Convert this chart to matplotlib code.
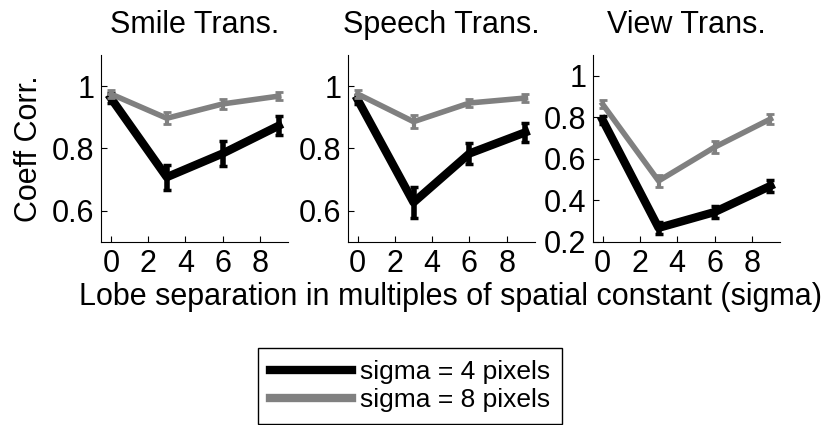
import matplotlib.pyplot as plt

plt.rcParams['font.family'] = ['Liberation Sans', 'DejaVu Sans']

# lobe separation (multiples of sigma)
sep = [0, 3, 6, 9]

titles = ['Smile Trans.', 'Speech Trans.', 'View Trans.']

# mean correlation coefficient, sigma = 4 px
corr_s4 = [
    [0.962, 0.708, 0.784, 0.873],
    [0.957, 0.627, 0.784, 0.852],
    [0.787, 0.268, 0.344, 0.470],
]
err_s4 = [
    [0.015, 0.04, 0.04, 0.03],
    [0.015, 0.05, 0.035, 0.03],
    [0.02, 0.03, 0.03, 0.03],
]

# mean correlation coefficient, sigma = 8 px
corr_s8 = [
    [0.975, 0.897, 0.943, 0.968],
    [0.975, 0.886, 0.946, 0.962],
    [0.863, 0.494, 0.656, 0.792],
]
err_s8 = [
    [0.012, 0.02, 0.015, 0.012],
    [0.012, 0.02, 0.012, 0.012],
    [0.02, 0.03, 0.03, 0.025],
]

ylims = [(0.5, 1.1), (0.5, 1.1), (0.2, 1.1)]
yticks = [[0.6, 0.8, 1], [0.6, 0.8, 1], [0.2, 0.4, 0.6, 0.8, 1]]
ytick_labels = [['0.6', '0.8', '1'], ['0.6', '0.8', '1'],
                ['0.2', '0.4', '0.6', '0.8', '1']]

black = '#000000'
gray = '#808080'
fs = 22

fig = plt.figure(figsize=(8.34, 4.25), dpi=100)
lefts = [0.1217, 0.4176, 0.7114]
axes = []
for i in range(3):
    ax = fig.add_axes([lefts[i], 0.4306, 0.2236, 0.44])
    ax.errorbar(sep, corr_s4[i], yerr=err_s4[i], color=black, lw=6,
                elinewidth=4, capsize=3, capthick=2.5, zorder=2)
    ax.errorbar(sep, corr_s8[i], yerr=err_s8[i], color=gray, lw=4,
                elinewidth=3, capsize=3, capthick=2, zorder=3)
    ax.set_xlim(-0.5, 9.5)
    ax.set_ylim(*ylims[i])
    ax.set_xticks([0, 2, 4, 6, 8])
    ax.set_yticks(yticks[i])
    ax.set_yticklabels(ytick_labels[i])
    ax.tick_params(direction='in', length=4, width=0.8, labelsize=fs, pad=5)
    ax.spines['top'].set_visible(False)
    ax.spines['right'].set_visible(False)
    ax.set_title(titles[i], fontsize=fs, pad=16)
    axes.append(ax)

axes[0].set_ylabel('Coeff Corr.', fontsize=fs, labelpad=6)
fig.text(0.54, 0.30, 'Lobe separation in multiples of spatial constant (sigma)',
         ha='center', va='center', fontsize=fs)

h4, = axes[0].plot([], [], color=black, lw=6)
h8, = axes[0].plot([], [], color=gray, lw=6)
leg = fig.legend([h4, h8], ['sigma = 4 pixels', 'sigma = 8 pixels'],
                 loc='lower left', bbox_to_anchor=(258 / 834, 1 / 425),
                 fontsize=19, frameon=True, fancybox=False,
                 handlelength=3.1, handletextpad=0.3, borderpad=0.45,
                 labelspacing=0.15, borderaxespad=0)
leg.get_frame().set_edgecolor('black')
leg.get_frame().set_linewidth(1.0)
leg.get_frame().set_alpha(1)

fig.savefig('out.png', dpi=100)
